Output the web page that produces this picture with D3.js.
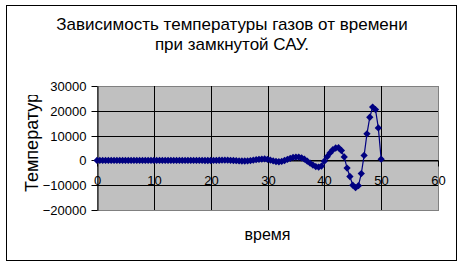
<!DOCTYPE html>
<html>
<head>
<meta charset="utf-8">
<script src="https://cdn.jsdelivr.net/npm/d3@7"></script>
<style>
  body { margin: 0; background: #fff; }
  svg { display: block; font-family: "Liberation Sans", Arial, sans-serif; }
</style>
</head>
<body>
<div id="chart-area"></div>
<script>
// время, step 0.5
const times = [
  0, 0.5, 1, 1.5, 2, 2.5, 3, 3.5, 4, 4.5, 5, 5.5, 6, 6.5, 7, 7.5, 8, 8.5, 9, 9.5,
  10, 10.5, 11, 11.5, 12, 12.5, 13, 13.5, 14, 14.5, 15, 15.5, 16, 16.5, 17, 17.5,
  18, 18.5, 19, 19.5, 20, 20.5, 21, 21.5, 22, 22.5, 23, 23.5, 24, 24.5, 25, 25.5,
  26, 26.5, 27, 27.5, 28, 28.5, 29, 29.5, 30, 30.5, 31, 31.5, 32, 32.5, 33, 33.5,
  34, 34.5, 35, 35.5, 36, 36.5, 37, 37.5, 38, 38.5, 39, 39.5, 40, 40.5, 41, 41.5,
  42, 42.5, 43, 43.5, 44, 44.5, 45, 45.5, 46, 46.5, 47, 47.5, 48, 48.5, 49, 49.5, 50
];

// температура газов
const temps = [
  0, 0, 0, 0, 0, 0, 0, 0, 0, 0, 0, 0, 0, 0, 0, 0, 0, 0, 0, 0,
  0, 0, 0, 0, 0, 0, 0, 0, 0, 0, 0, 0, 0, 0, 0, 0,
  0, -20, -40, -50, -40, -20, 20, 60, 90, 100, 80, 30, -40, -130, -200, -250,
  -250, -200, -80, 100, 300, 450, 550, 600, 450, 150, -200, -450, -550, -400, -50, 400,
  850, 1200, 1350, 1350, 1050, 500, -300, -1100, -1900, -2500, -2700, -2300, -300, 1500, 3000, 4300,
  5000, 5100, 4000, 1400, -3100, -6500, -10000, -11000, -10200, -5300, 2000, 10700, 17400, 21500, 20500, 13100, 500
];

const xTicks = [0, 10, 20, 30, 40, 50, 60];
const yTicks = [-20000, -10000, 0, 10000, 20000, 30000];

const titleLines = ["Зависимость температуры газов от времени", "при замкнутой САУ."];
const xTitle = "время";
const yTitle = "Температура";

const width = 463,
  height = 266;

const plot = { left: 97, right: 438, top: 86, bottom: 210 };

const svg = d3
  .select("#chart-area")
  .append("svg")
  .attr("width", width)
  .attr("height", height);

// chart area border
svg
  .append("rect")
  .attr("x", 6.5)
  .attr("y", 5.5)
  .attr("width", 450)
  .attr("height", 255)
  .attr("fill", "#fff")
  .attr("stroke", "#000");

const xScale = d3.scaleLinear().domain([0, 60]).range([plot.left, plot.right]);
const yScale = d3.scaleLinear().domain([-20000, 30000]).range([plot.bottom, plot.top]);

const px = v => Math.round(v) + 0.5;

// plot area
svg
  .append("rect")
  .attr("x", plot.left + 0.5)
  .attr("y", plot.top + 0.5)
  .attr("width", plot.right - plot.left)
  .attr("height", plot.bottom - plot.top)
  .attr("fill", "#c0c0c0")
  .attr("stroke", "#808080");

// gridlines
svg
  .append("g")
  .selectAll("line.h")
  .data(yTicks.filter(d => d !== -20000 && d !== 30000))
  .enter()
  .append("line")
  .attr("x1", plot.left)
  .attr("x2", plot.right)
  .attr("y1", d => px(yScale(d)))
  .attr("y2", d => px(yScale(d)))
  .attr("stroke", "#000");

svg
  .append("g")
  .selectAll("line.v")
  .data(xTicks.filter(d => d !== 0 && d !== 60))
  .enter()
  .append("line")
  .attr("x1", d => px(xScale(d)))
  .attr("x2", d => px(xScale(d)))
  .attr("y1", plot.top)
  .attr("y2", plot.bottom)
  .attr("stroke", "#000");

// Y axis
const yAxisCall = d3
  .axisLeft(yScale)
  .tickValues(yTicks)
  .tickFormat(d3.format("d"))
  .tickSizeInner(6)
  .tickSizeOuter(0)
  .tickPadding(5);

const yAxisGroup = svg
  .append("g")
  .attr("transform", "translate(" + (plot.left + 0.5) + ",0)")
  .call(yAxisCall);

yAxisGroup.selectAll(".tick").attr("transform", d => "translate(0," + px(yScale(d)) + ")");

// X axis at zero
const xAxisCall = d3
  .axisBottom(xScale)
  .tickValues(xTicks)
  .tickFormat(d3.format("d"))
  .tickSizeInner(6)
  .tickSizeOuter(0)
  .tickPadding(9);

const xAxisGroup = svg
  .append("g")
  .attr("transform", "translate(0," + px(yScale(0)) + ")")
  .call(xAxisCall);

xAxisGroup.selectAll(".tick").attr("transform", d => "translate(" + px(xScale(d)) + ",0)");

svg.selectAll(".domain, .tick line").attr("stroke", "#000");
svg
  .selectAll(".tick text")
  .attr("fill", "#000")
  .attr("font-size", "13px")
  .attr("font-family", "Liberation Sans, Arial, sans-serif");

// series
const points = times.map((t, i) => [t, temps[i]]);

const line = d3
  .line()
  .x(d => xScale(d[0]))
  .y(d => yScale(d[1]));

svg
  .append("path")
  .datum(points)
  .attr("d", line)
  .attr("fill", "none")
  .attr("stroke", "#000080")
  .attr("stroke-width", 1.2);

const diamond = d3.symbol().type(d3.symbolDiamond2).size(34);

svg
  .append("g")
  .selectAll("path")
  .data(points)
  .enter()
  .append("path")
  .attr("d", diamond)
  .attr("transform", d => "translate(" + xScale(d[0]) + "," + yScale(d[1]) + ")")
  .attr("fill", "#000080");

// title
svg
  .append("text")
  .attr("x", 232)
  .attr("y", 30)
  .attr("text-anchor", "middle")
  .attr("font-size", "17px")
  .selectAll("tspan")
  .data(titleLines)
  .enter()
  .append("tspan")
  .attr("x", 232)
  .attr("dy", (d, i) => (i === 0 ? 0 : 19.5))
  .text(d => d);

// X label
svg
  .append("text")
  .attr("x", (plot.left + plot.right) / 2)
  .attr("y", 240)
  .attr("font-size", "16px")
  .attr("text-anchor", "middle")
  .text(xTitle);

// Y label, cut at the top like the original
svg
  .append("clipPath")
  .attr("id", "ylabel-clip")
  .append("rect")
  .attr("x", 0)
  .attr("y", 95)
  .attr("width", 60)
  .attr("height", 150);

svg
  .append("g")
  .attr("clip-path", "url(#ylabel-clip)")
  .append("text")
  .attr("transform", "translate(37.5,192) rotate(-90)")
  .attr("font-size", "18px")
  .text(yTitle);
</script>
</body>
</html>
